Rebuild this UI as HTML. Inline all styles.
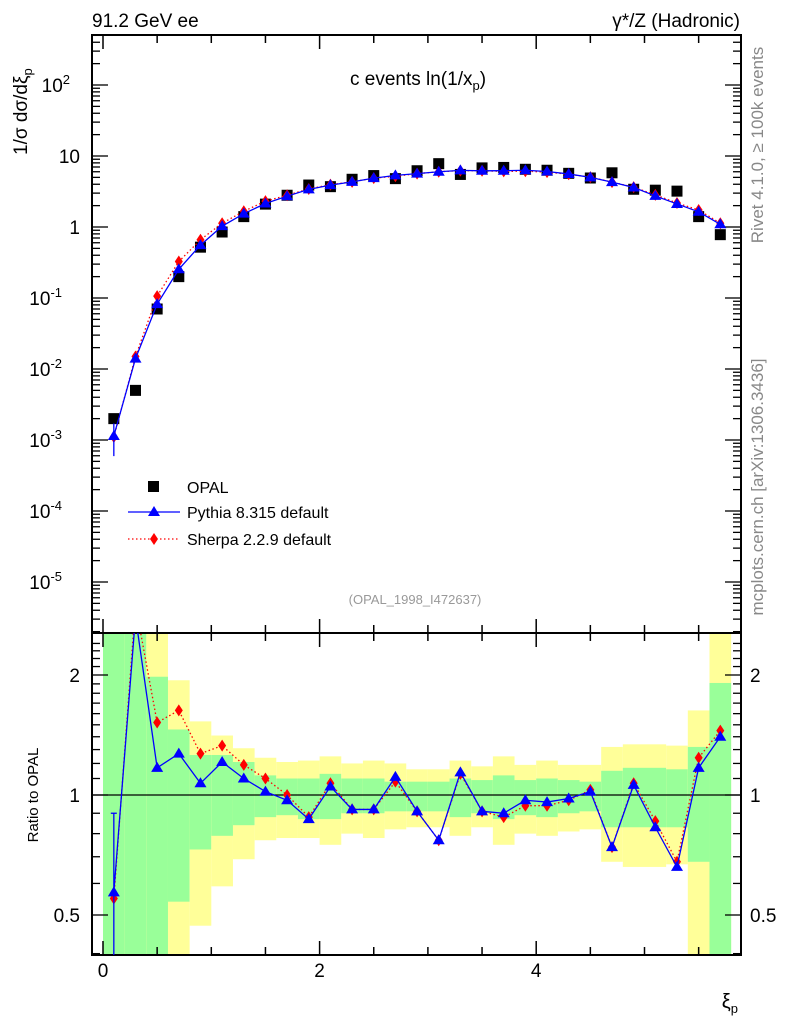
<!DOCTYPE html>
<html><head><meta charset="utf-8">
<style>
html,body{margin:0;padding:0;background:#fff;}
svg{display:block;font-family:"Liberation Sans",sans-serif;}
</style></head>
<body>
<svg id="chart" width="786" height="1024" viewBox="0 0 786 1024" xmlns="http://www.w3.org/2000/svg">
<g id="bands"></g>
<g id="grid"></g>
<g id="series"></g>
<text x="92" y="27" font-size="19">91.2 GeV ee</text>
<text x="740" y="27" font-size="19" text-anchor="end">γ*/Z (Hadronic)</text>
<text x="418" y="85" font-size="19" text-anchor="middle">c events ln(1/x<tspan font-size="13" dy="5">p</tspan><tspan dy="-5">)</tspan></text>
<text x="415" y="604" font-size="13" fill="#999" text-anchor="middle">(OPAL_1998_I472637)</text>
<text transform="translate(27,155) rotate(-90)" font-size="19" text-anchor="start">1/σ   dσ/dξ<tspan font-size="13" dy="5">p</tspan></text>
<text transform="translate(38,795) rotate(-90)" font-size="15" text-anchor="middle">Ratio to OPAL</text>
<text x="738" y="1008" font-size="20" text-anchor="end">ξ<tspan font-size="13" dy="5">p</tspan></text>
<text transform="translate(763,145) rotate(-90)" font-size="17" fill="#888" text-anchor="middle">Rivet 4.1.0, ≥ 100k events</text>
<text transform="translate(763,487) rotate(-90)" font-size="17" fill="#888" text-anchor="middle">mcplots.cern.ch [arXiv:1306.3436]</text>
<g>
<rect x="148" y="481" width="11" height="11" fill="#000"/>
<text x="187" y="493" font-size="16">OPAL</text>
<line x1="128" y1="512" x2="180" y2="512" stroke="#00f" stroke-width="1.3"/>
<polygon points="154,506 160,516 148,516" fill="#00f"/>
<text x="187" y="518" font-size="16">Pythia 8.315 default</text>
<line x1="128" y1="539" x2="180" y2="539" stroke="#f00" stroke-width="1.3" stroke-dasharray="1.5,2.5"/>
<polygon points="154,533 158,539 154,545 150,539" fill="#f00"/>
<text x="187" y="545" font-size="16">Sherpa 2.2.9 default</text>
</g>
</svg>
<script>
const xCenters=[0.1,0.3,0.5,0.7,0.9,1.1,1.3,1.5,1.7,1.9,2.1,2.3,2.5,2.7,2.9,3.1,3.3,3.5,3.7,3.9,4.1,4.3,4.5,4.7,4.9,5.1,5.3,5.5,5.7];
const opalValues=[0.002,0.005,0.07,0.2,0.52,0.85,1.4,2.1,2.8,3.9,3.7,4.7,5.3,4.8,6.2,7.8,5.5,6.8,6.9,6.5,6.3,5.7,4.9,5.8,3.4,3.3,3.2,1.4,0.78];
const pythiaRatio=[0.57,2.8,1.17,1.27,1.07,1.21,1.10,1.02,0.97,0.87,1.05,0.92,0.92,1.11,0.91,0.77,1.14,0.91,0.90,0.97,0.96,0.98,1.02,0.74,1.06,0.83,0.66,1.17,1.40];
const sherpaRatio=[0.55,3.0,1.52,1.63,1.27,1.33,1.19,1.10,1.0,0.88,1.07,0.92,0.92,1.08,0.91,0.77,1.13,0.91,0.88,0.94,0.94,0.97,1.03,0.74,1.07,0.86,0.68,1.24,1.45];
const greenHi=[9,9,1.98,1.46,1.26,1.26,1.21,1.12,1.10,1.10,1.13,1.10,1.10,1.08,1.08,1.08,1.10,1.09,1.12,1.09,1.10,1.09,1.08,1.15,1.17,1.17,1.16,1.32,1.91];
const greenLo=[0.1,0.1,0.1,0.54,0.73,0.79,0.84,0.88,0.89,0.87,0.87,0.90,0.90,0.91,0.91,0.91,0.88,0.90,0.87,0.89,0.88,0.90,0.91,0.83,0.83,0.83,0.83,0.68,0.1];
const yellowHi=[9,9,9,1.94,1.53,1.41,1.31,1.24,1.21,1.22,1.25,1.20,1.22,1.20,1.16,1.16,1.22,1.18,1.25,1.19,1.22,1.19,1.19,1.32,1.34,1.34,1.33,1.63,9];
const yellowLo=[0.1,0.1,0.1,0.1,0.47,0.59,0.69,0.77,0.78,0.78,0.75,0.80,0.78,0.82,0.83,0.83,0.79,0.83,0.75,0.80,0.79,0.81,0.82,0.68,0.66,0.66,0.67,0.1,0.1];
const xTicks=[0,2,4];
const yTickExp=[-5,-4,-3,-2,-1,0,1,2];
const rTicks=[0.5,1,2];

const NS="http://www.w3.org/2000/svg";
const L=92,R=741,T=35,B=633,RB=955;
function sx(v){return 103+(v)*108.3;}
function sy(v){return 227-71*Math.log10(v);}
function sr(v){return 795-120*Math.log2(v);}
function clampR(y){return Math.max(633,Math.min(955,y));}
function mk(tag,attrs,parent){const e=document.createElementNS(NS,tag);for(const k in attrs)e.setAttribute(k,attrs[k]);parent.appendChild(e);return e;}
const bands=document.getElementById('bands'),grid=document.getElementById('grid'),ser=document.getElementById('series');

for(let i=0;i<xCenters.length;i++){
  const x0=sx(xCenters[i]-0.1),x1=sx(xCenters[i]+0.1);
  const yb=mk('rect',{x:x0,y:clampR(sr(yellowHi[i])),width:x1-x0,height:clampR(sr(yellowLo[i]))-clampR(sr(yellowHi[i])),fill:'#ffff99'},bands);
  
  
  const gb=mk('rect',{x:x0,y:clampR(sr(greenHi[i])),width:x1-x0,height:clampR(sr(greenLo[i]))-clampR(sr(greenHi[i])),fill:'#99ff99'},bands);
  
  
}
mk('rect',{x:L,y:T,width:R-L,height:B-T,fill:'none',stroke:'#000','stroke-width':2},grid);
mk('rect',{x:L,y:B,width:R-L,height:RB-B,fill:'none',stroke:'#000','stroke-width':2},grid);
mk('line',{x1:L,y1:sr(1),x2:R,y2:sr(1),stroke:'#000','stroke-width':1.2},grid);
for(let v=0;v<=5.8;v+=0.5){
  const major=Math.abs(v%2)<1e-6, len=major?14:8;
  const x=sx(v);
  for(const [y0,dir] of [[T,1],[B,-1],[B,1],[RB,-1]]) mk('line',{x1:x,y1:y0,x2:x,y2:y0+dir*len,stroke:'#000','stroke-width':1.5},grid);
}
xTicks.forEach(v=>{const t=mk('text',{x:sx(v),y:977,'font-size':19,'text-anchor':'middle'},grid);t.textContent=v;

});
for(let e=-6;e<=2;e++){
  for(let m=1;m<10;m++){
    const v=m*Math.pow(10,e),y=sy(v);
    if(y<T||y>B)continue;
    const len=m===1?16:8;
    mk('line',{x1:L,y1:y,x2:L+len,y2:y,stroke:'#000','stroke-width':1.3},grid);
    mk('line',{x1:R,y1:y,x2:R-len,y2:y,stroke:'#000','stroke-width':1.3},grid);
  }
}
yTickExp.forEach(e=>{
  const t=mk('text',{x:80,y:sy(Math.pow(10,e))+7,'font-size':19,'text-anchor':'end'},grid);
  
  
  if(e===0)t.textContent='1';else if(e===1)t.textContent='10';
  else{t.textContent='10';const s=document.createElementNS(NS,'tspan');s.setAttribute('font-size','13');s.setAttribute('dy','-8');s.textContent=e;t.appendChild(s);
    t.setAttribute('x',80-(e<0?18:10));}
});
for(let v=0.4;v<=2.5;v+=0.1){
  const y=sr(v); if(y<B||y>RB)continue;
  const major=[0.5,1,2].some(r=>Math.abs(r-v)<1e-6), len=major?16:8;
  mk('line',{x1:L,y1:y,x2:L+len,y2:y,stroke:'#000','stroke-width':1.3},grid);
  mk('line',{x1:R,y1:y,x2:R-len,y2:y,stroke:'#000','stroke-width':1.3},grid);
}
rTicks.forEach(v=>{
  const a=mk('text',{x:80,y:sr(v)+7,'font-size':19,'text-anchor':'end'},grid);a.textContent=v;
  
  
  const b=mk('text',{x:750,y:sr(v)+7,'font-size':19},grid);b.textContent=v;
  
  
});
const defs=mk('defs',{},ser);
const c1=mk('clipPath',{id:'cm'},defs);mk('rect',{x:L,y:T,width:R-L,height:B-T},c1);
const c2=mk('clipPath',{id:'cr'},defs);mk('rect',{x:L,y:B,width:R-L,height:RB-B},c2);
const gm=mk('g',{'clip-path':'url(#cm)'},ser), gr=mk('g',{'clip-path':'url(#cr)'},ser);
function tri(g,x,y,c){return mk('polygon',{points:`${x},${y-6} ${x+6},${y+4} ${x-6},${y+4}`,fill:c},g);}
function dia(g,x,y,c){return mk('polygon',{points:`${x},${y-6} ${x+4},${y} ${x},${y+6} ${x-4},${y}`,fill:c},g);}
function drawMC(g,vals,yf,color,dash,shape,name){
  const pts=xCenters.map((x,i)=>sx(x)+','+yf(vals[i])).join(' ');
  const pl=mk('polyline',{points:pts,fill:'none',stroke:color,'stroke-width':1.3},g);
  if(dash)pl.setAttribute('stroke-dasharray',dash);
  
  
  xCenters.forEach((x,i)=>{const m=shape(g,sx(x),yf(vals[i]),color);
    
    });
}
const pyMain=opalValues.map((v,i)=>v*pythiaRatio[i]);
const shMain=opalValues.map((v,i)=>v*sherpaRatio[i]);
xCenters.forEach((x,i)=>{const r=mk('rect',{x:sx(x)-5.5,y:sy(opalValues[i])-5.5,width:11,height:11,fill:'#000'},gm);
  
  });
drawMC(gm,shMain,sy,'#f00','1.5,2.5',dia,'sherpa');
drawMC(gm,pyMain,sy,'#00f',null,tri,'pythia');
mk('line',{x1:sx(0.1),y1:sy(pyMain[0]*0.52),x2:sx(0.1),y2:sy(pyMain[0]*1.5),stroke:'#00f','stroke-width':1.3},gm);
drawMC(gr,sherpaRatio,sr,'#f00','1.5,2.5',dia,'sherpa-ratio');
drawMC(gr,pythiaRatio,sr,'#00f',null,tri,'pythia-ratio');
mk('line',{x1:sx(0.1),y1:sr(0.3),x2:sx(0.1),y2:sr(0.9),stroke:'#00f','stroke-width':1.3},gr);
mk('line',{x1:sx(0.1)-3,y1:sr(0.9),x2:sx(0.1)+3,y2:sr(0.9),stroke:'#00f','stroke-width':1.3},gr);
</script>
</body></html>
